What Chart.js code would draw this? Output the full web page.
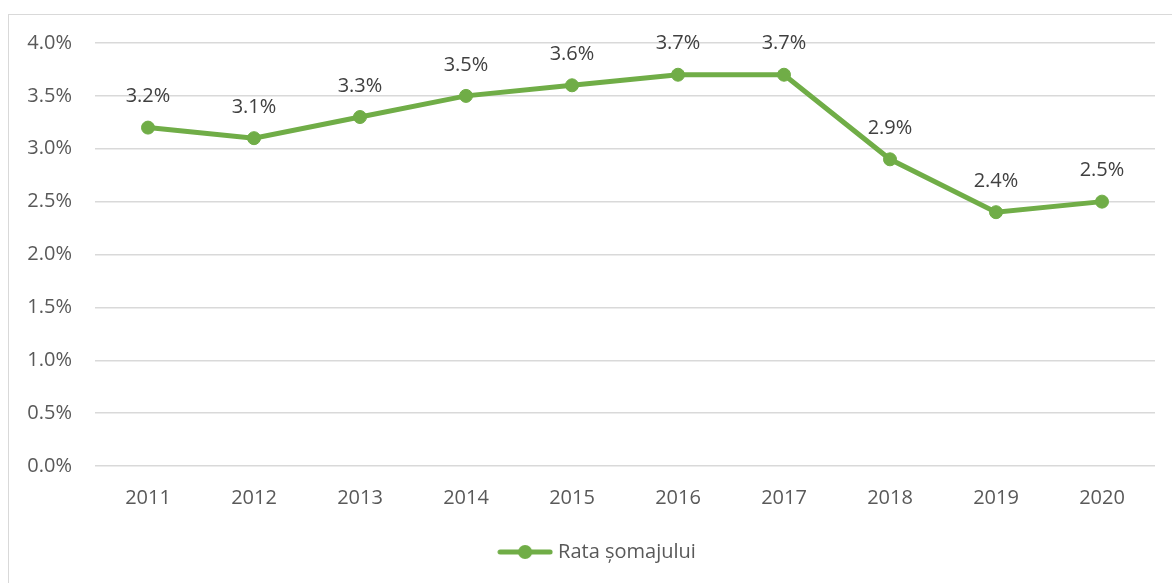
<!DOCTYPE html>
<html>
<head>
<meta charset="utf-8">
<script src="https://cdn.jsdelivr.net/npm/chart.js@4/dist/chart.umd.min.js"></script>
<style>
  html, body { margin: 0; padding: 0; background: #ffffff; }
  #wrap { position: relative; width: 1172px; height: 583px; overflow: hidden; }
  #frame { position: absolute; left: 8px; top: 14px; width: 1300px; height: 700px;
           border-left: 1px solid #d9d9d9; border-top: 1px solid #d9d9d9; box-sizing: border-box; }
  canvas { position: absolute; left: 0; top: 0; }
</style>
</head>
<body>
<div id="wrap">
  <div id="frame"></div>
  <canvas id="c" width="1198" height="583"></canvas>
</div>
<script>
const categories = ['2011', '2012', '2013', '2014', '2015', '2016', '2017', '2018', '2019', '2020'];
const rates = [3.2, 3.1, 3.3, 3.5, 3.6, 3.7, 3.7, 2.9, 2.4, 2.5];
const seriesName = 'Rata șomajului';
const yMin = 0, yMax = 4, yStep = 0.5;

const GREEN = '#70AD47';
const FONT = '"Open Sans", "Noto Sans", sans-serif';

// legend marker: line with a dot in the middle
const marker = document.createElement('canvas');
marker.width = 56; marker.height = 16;
(function () {
  const g = marker.getContext('2d');
  g.strokeStyle = GREEN; g.lineWidth = 5; g.lineCap = 'round';
  g.beginPath(); g.moveTo(3, 8); g.lineTo(53, 8); g.stroke();
  g.fillStyle = GREEN; g.beginPath(); g.arc(28, 8, 7, 0, Math.PI * 2); g.fill();
})();

const dataLabels = {
  id: 'dataLabels',
  afterDatasetsDraw(chart) {
    const ctx = chart.ctx;
    const meta = chart.getDatasetMeta(0);
    ctx.save();
    ctx.font = '20px ' + FONT;
    ctx.fillStyle = '#404040';
    ctx.textAlign = 'center';
    ctx.textBaseline = 'middle';
    meta.data.forEach((pt, i) => {
      ctx.fillText(rates[i].toFixed(1) + '%', pt.x, pt.y - 31);
    });
    ctx.restore();
  }
};

new Chart(document.getElementById('c'), {
  type: 'line',
  data: {
    labels: categories,
    datasets: [{
      label: seriesName,
      data: rates,
      yAxisID: 'y',
      borderColor: GREEN,
      backgroundColor: GREEN,
      borderWidth: 5,
      pointRadius: 6.5,
      pointBorderWidth: 1,
      pointBackgroundColor: GREEN,
      pointBorderColor: GREEN,
      tension: 0,
      fill: false
    }]
  },
  options: {
    responsive: false,
    animation: false,
    devicePixelRatio: 1,
    layout: { padding: { left: 0, right: 0, top: 43, bottom: 11 } },
    plugins: {
      tooltip: { enabled: false },
      legend: {
        position: 'bottom',
        labels: {
          usePointStyle: true,
          pointStyleWidth: 46,
          padding: 10,
          color: '#595959',
          font: { family: FONT, size: 20 },
          generateLabels(chart) {
            return [{
              text: seriesName,
              pointStyle: marker,
              fillStyle: GREEN,
              strokeStyle: GREEN,
              lineWidth: 0,
              fontColor: '#595959',
              hidden: false,
              datasetIndex: 0
            }];
          }
        }
      }
    },
    scales: {
      x: {
        offset: true,
        grid: { display: false, drawTicks: false },
        border: { display: false },
        ticks: { color: '#595959', font: { family: FONT, size: 20 }, padding: 20, maxRotation: 0 },
        afterFit(s) { s.height = 66; }
      },
      y: {
        position: 'left',
        min: yMin, max: yMax,
        grid: { color: '#d9d9d9', lineWidth: 1.5, drawTicks: false },
        border: { display: false },
        ticks: {
          stepSize: yStep,
          color: '#595959',
          font: { family: FONT, size: 20 },
          padding: 23,
          callback: v => v.toFixed(1) + '%'
        },
        afterFit(s) { s.width = 95; }
      },
      yPad: {
        position: 'right',
        display: true,
        min: yMin, max: yMax,
        grid: { display: false, drawTicks: false },
        border: { display: false },
        ticks: { display: false },
        afterFit(s) { s.width = 43; }
      }
    }
  },
  plugins: [dataLabels]
});
</script>
</body>
</html>
